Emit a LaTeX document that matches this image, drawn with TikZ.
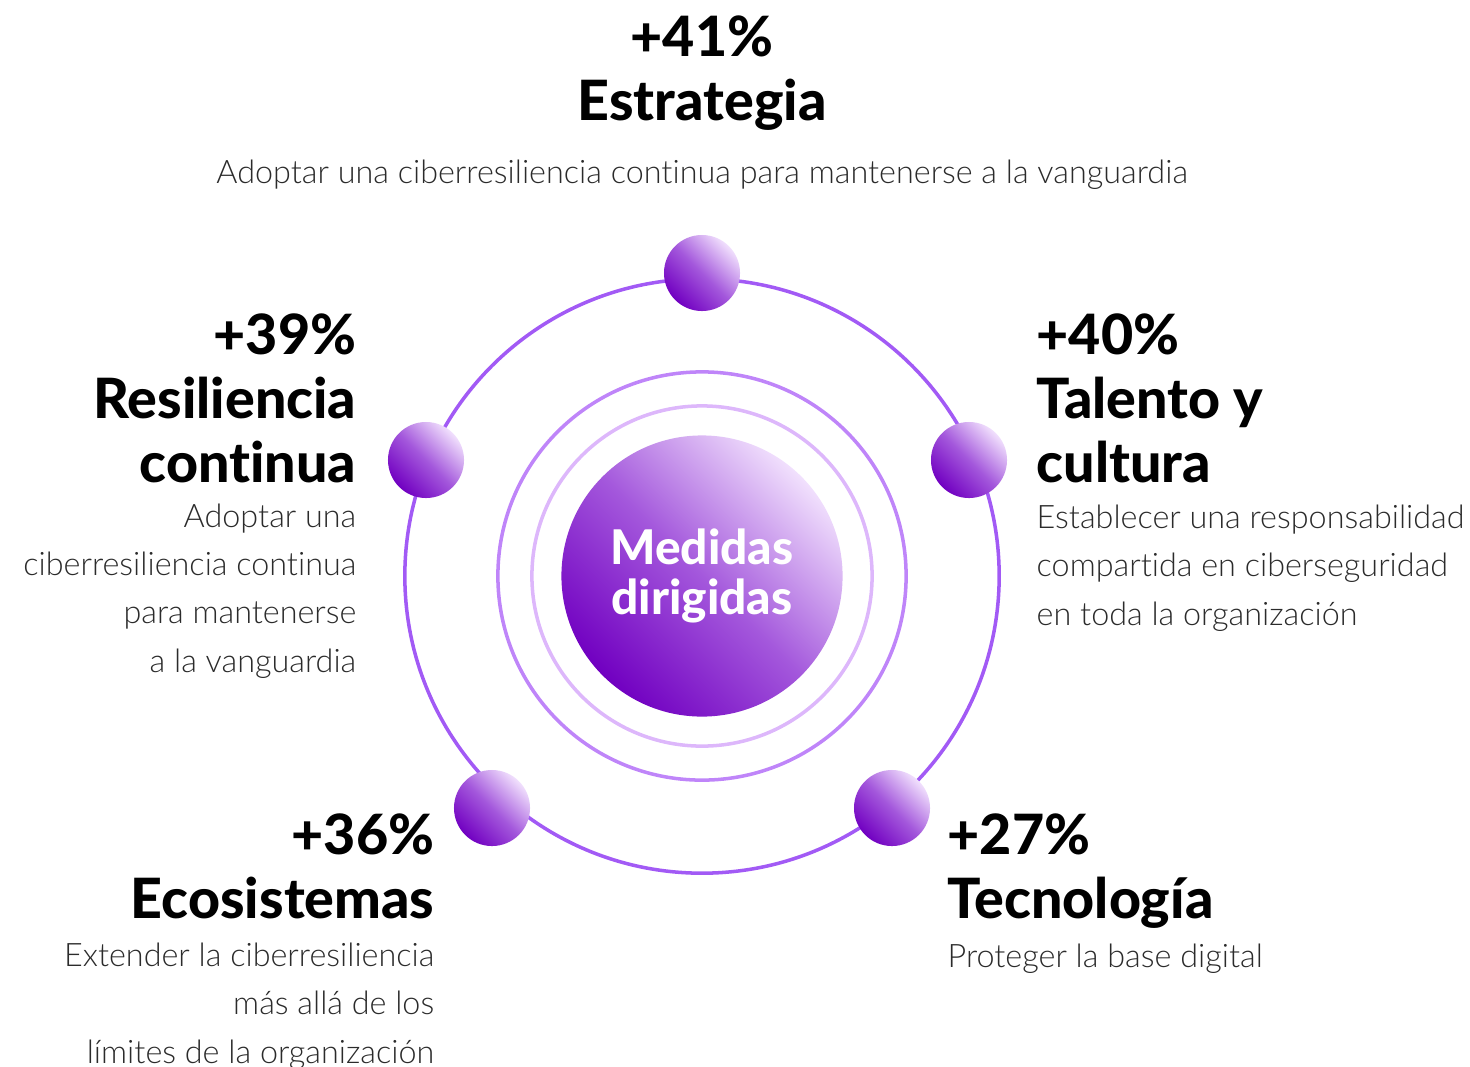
\documentclass[tikz,border=0pt]{standalone}
\usepackage{fontspec}
\setmainfont{Lato}[Ligatures=NoCommon]
\newfontfamily\lightfont{Lato Light}[Ligatures=NoCommon]
\newfontfamily\heavyfont{Lato Heavy}[Ligatures=NoCommon]
\usetikzlibrary{positioning,shadings}

\definecolor{ringout}{HTML}{A25AF5}
\definecolor{ringmid}{HTML}{BF85F9}
\definecolor{ringin}{HTML}{DDB7FB}
\definecolor{deeppurple}{HTML}{7100C1}
\definecolor{midpurple}{HTML}{A458DC}
\definecolor{palepurple}{HTML}{F1E0FD}
\definecolor{bodygray}{HTML}{2B2B2B}

\begin{document}
\begin{tikzpicture}[x=0.01cm, y=-0.01cm,
   ball/.style={circle, minimum size=0.76cm, inner sep=0pt,
     bottom color=deeppurple, top color=palepurple, middle color=midpurple, shading angle=-45},
   hubball/.style={circle, minimum size=2.81cm, inner sep=0pt,
     bottom color=deeppurple, top color=palepurple, middle color=midpurple, shading angle=-45,
     text=white, align=center, font=\heavyfont\fontsize{13.6}{14}\selectfont},
   headtxt/.style={inner sep=0pt, font=\heavyfont\fontsize{15.8}{18.07}\selectfont},
   bodytxt/.style={inner sep=0pt, text=bodygray, font=\lightfont\fontsize{9.2}{13.66}\selectfont}]
   \useasboundingbox (0,0) rectangle (1470,1066);

   % hub and rings
   \node[hubball] (hub) at (702,576) {Medidas\\dirigidas};
   \draw[ringout, line width=1pt] (hub.center) circle (2.97cm);
   \draw[ringmid, line width=1pt] (hub.center) circle (2.04cm);
   \draw[ringin, line width=1pt] (hub.center) circle (1.70cm);

   % balls on the outer ring
   \node[ball] (btop) at (702,273) {};
   \node[ball] (bleft) at (426,460) {};
   \node[ball] (bright) at (969,460) {};
   \node[ball] (bdl) at (492,808) {};
   \node[ball] (bdr) at (892,808) {};

   % top
   \node[headtxt, align=center, anchor=base] (estr) at (702,120) {+41\%\\Estrategia};
   \node[bodytxt, anchor=base] (estrtxt) at (702,183) {Adoptar una ciberresiliencia continua para mantenerse a la vanguardia};

   % left
   \node[headtxt, align=right, anchor=base east] (resil) at (357,482) {+39\%\\Resiliencia\\continua};
   \node[bodytxt, align=right, anchor=base east] (resiltxt) at (357,672) {Adoptar una\\ciberresiliencia continua\\para mantenerse\\a la vanguardia};

   % right
   \node[headtxt, align=left, anchor=base west] (talen) at (1036,482) {+40\%\\Talento y\\cultura};
   \node[bodytxt, align=left, anchor=base west] (talentxt) at (1036,625) {Establecer una responsabilidad\\compartida en ciberseguridad\\en toda la organización};

   % bottom left
   \node[headtxt, align=right, anchor=base east] (ecos) at (435,918) {+36\%\\Ecosistemas};
   \node[bodytxt, align=right, anchor=base east] (ecostxt) at (435,1063) {Extender la ciberresiliencia\\más allá de los\\límites de la organización};

   % bottom right
   \node[headtxt, align=left, anchor=base west] (tecno) at (947,918) {+27\%\\Tecnología};
   \node[bodytxt, align=left, anchor=base west] (tecnotxt) at (947,967) {Proteger la base digital};
\end{tikzpicture}
\end{document}
